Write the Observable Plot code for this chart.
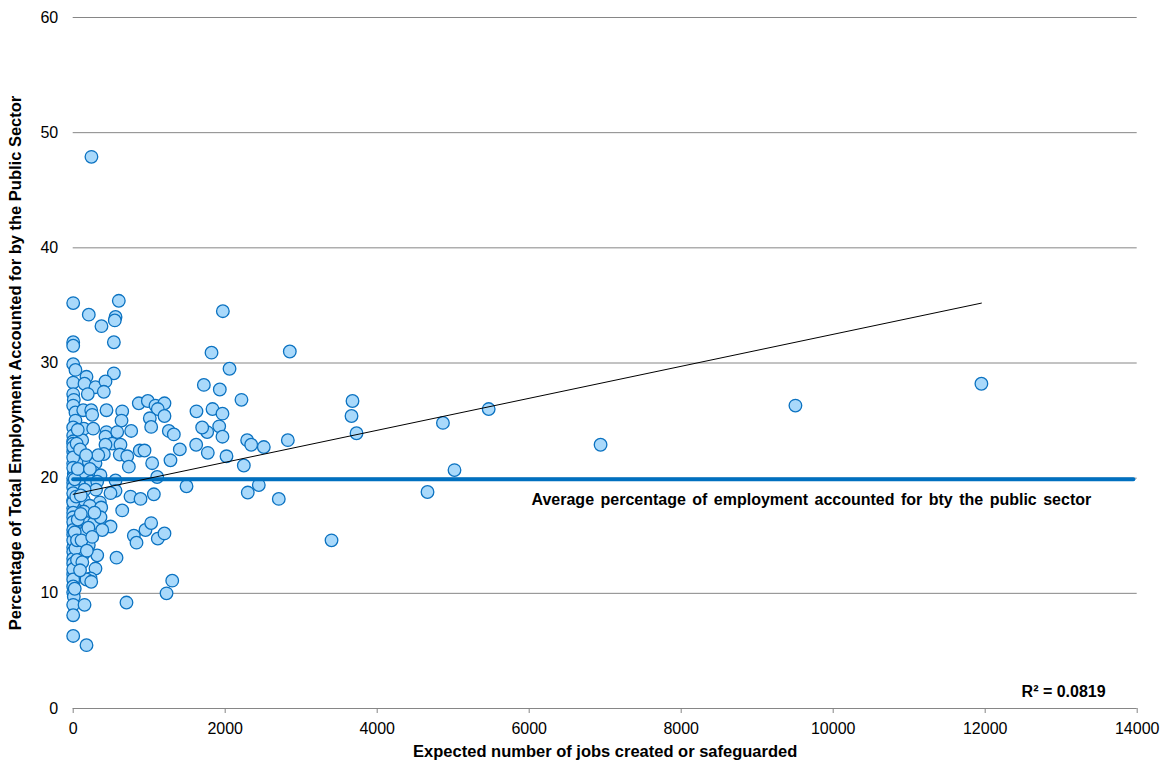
<!DOCTYPE html>
<html><head><meta charset="utf-8">
<script src="https://cdn.jsdelivr.net/npm/d3@7"></script>
<script src="https://cdn.jsdelivr.net/npm/@observablehq/plot@0.6"></script>
<style>
body{margin:0;background:#fff;}
#chart svg{font-family:"Liberation Sans",Arial,sans-serif;}
g[aria-label="x-axis tick"] path{stroke:#868686;}
g[aria-description="average-label"] text{word-spacing:2px;}
</style></head><body><div id="chart"></div>
<script>
// Expected number of jobs created or safeguarded (x) and % employment in the public sector (y)
const jobs = [240,0,205,372,600,557,547,535,0,0,1969,1820,2057,2850,0,30,175,535,0,149,293,425,403,192,0,8,1719,1929,2214,3675,3662,3728,1833,1964,1921,1964,1763,1697,2289,2342,2508,2824,1771,2017,2245,2297,2442,2705,3399,4865,5467,5017,4662,6939,9503,11950,1491,1622,1618,
0,30,132,237,250,438,645,636,863,982,1083,1201,1113,1008,1201,1026,1258,1324,30,0,140,263,438,579,763,0,0,118,425,513,622,425,403,613,711,876,938,732,1039,1280,1403,0,0,96,205,293,8,118,271,359,162,74,237,316,557,557,1105,0,140,350,754,886,1061,0,218,368,645,8,140,184,8,271,491,382,30,140,205,0,316,8,140,570,8,293,0,228,798,833,951,1026,1113,1201,1303,8,175,237,0,8,0,149,0,701,1228,0,175,359,0,491,
0,0,0,0,0,0,0,0,0,0,0,0,0,0,0,0,0,0,0,0,20,20,20,30,50,50,60,40,60,45,90,100,110,120,180,200,250,280,300,330,170,150,220,100,60,90];
const publicPct = [47.9,35.2,34.2,33.2,35.4,34.0,33.7,31.8,31.8,31.5,34.5,30.9,29.5,31.0,29.9,29.4,28.8,29.1,28.3,28.2,27.9,28.4,27.5,27.3,27.3,26.8,28.1,27.7,26.8,26.7,25.4,23.9,26.0,25.6,24.5,23.6,24.0,24.4,23.3,22.9,22.7,23.3,22.2,21.9,21.1,18.75,19.4,18.2,14.6,24.8,26.0,20.7,18.8,22.9,26.3,28.2,19.3,25.8,22.9,
26.3,25.7,25.9,25.9,25.5,25.9,25.8,25.0,26.5,26.7,26.3,26.5,26.0,25.2,25.4,24.45,24.1,23.8,25.0,24.4,24.3,24.3,24.0,24.0,24.1,23.7,23.2,23.3,23.6,23.0,22.9,22.9,22.1,22.05,21.9,22.4,22.4,21.0,21.3,21.55,22.5,22.3,21.3,21.6,21.4,21.3,20.4,20.45,20.5,20.25,20.05,19.5,19.7,19.7,19.8,18.9,20.1,18.1,18.1,17.9,18.4,18.2,18.6,17.4,17.6,17.45,17.2,16.8,17.1,16.1,15.8,16.1,15.8,15.5,15.0,15.2,14.2,14.0,13.3,13.3,13.45,13.1,12.4,12.15,11.65,11.3,15.0,14.4,15.5,16.1,14.75,15.2,11.1,11.0,11.2,11.0,10.1,9.7,9.0,9.0,8.1,9.2,10.0,6.3,5.5,16.6,17.9,18.7,
23.0,22.7,21.8,20.9,20.0,19.6,19.2,18.7,17.0,16.6,16.2,15.5,15.1,14.6,13.6,13.0,12.6,12.1,11.2,10.6,10.4,19.9,15.3,13.9,14.6,12.9,16.4,18.4,20.8,23.0,22.5,16.9,14.6,12.7,13.7,15.7,14.9,17.0,19.0,22.0,22.0,19.0,20.8,18.5,24.2,12.0];

const averagePct = 19.9;           // average share of employment in the public sector
const averageRange = [0, 13950];   // extent of the average line along x
const trendX = [0, 11950];         // linear trendline end points
const trendY = [18.6, 35.2];
const rSquared = "R² = 0.0819";
const averageLabel = "Average percentage of employment accounted for bty the public sector";
const xTicks = [0, 2000, 4000, 6000, 8000, 10000, 12000, 14000];
const yTicks = [0, 10, 20, 30, 40, 50, 60];
const xTitle = "Expected number of jobs created or safeguarded";
const yTitle = "Percentage of Total Employment Accounted for by the Public Sector";

const points = jobs.map((j, i) => ({jobs: j, pct: publicPct[i]}));
const avgLine = averageRange.map(x => ({x, y: averagePct}));
const trend = trendX.map((x, i) => ({x, y: trendY[i]}));

const chart = Plot.plot({
  width: 1162, height: 763,
  marginLeft: 72.7, marginRight: 25.3, marginTop: 17, marginBottom: 55,
  x: {domain: [0, 14000]},
  y: {domain: [0, 60]},
  style: {fontFamily: '"Liberation Sans", Arial, sans-serif', fontSize: "16px", color: "#000", background: "#fff"},
  marks: [
    Plot.ruleY(yTicks.filter(d => d > 0), {stroke: "#868686", strokeWidth: 1}),
    Plot.ruleY([0], {stroke: "#868686", strokeWidth: 1}),
    Plot.axisY({ticks: yTicks, tickSize: 0, tickPadding: 15, fontSize: 16, label: null}),
    Plot.axisX({ticks: xTicks, tickSize: 5, tickPadding: 9, fontSize: 16, label: null, tickFormat: d => String(d)}),
    Plot.dot(points, {x: "jobs", y: "pct", r: 6.3, fill: "#a9d9fb", stroke: "#0b72c1", strokeWidth: 1.3}),
    Plot.line(avgLine, {x: "x", y: "y", stroke: "#0070c0", strokeWidth: 4}),
    Plot.line(trend, {x: "x", y: "y", stroke: "#000", strokeWidth: 1}),
    Plot.text([averageLabel], {x: 6030, y: 18.1, text: d => d, textAnchor: "start", fontWeight: "bold", fontSize: 16, ariaDescription: "average-label"}),
    Plot.text([rSquared], {x: 13585, y: 1.48, text: d => d, textAnchor: "end", fontWeight: "bold", fontSize: 16}),
    Plot.text([xTitle], {frameAnchor: "bottom", dy: 48, text: d => d, fontWeight: "bold", fontSize: 16.5}),
    Plot.text([yTitle], {frameAnchor: "left", dx: -57, rotate: -90, textAnchor: "middle", text: d => d, fontWeight: "bold", fontSize: 16.5})
  ]
});
document.getElementById("chart").appendChild(chart);
</script></body></html>
